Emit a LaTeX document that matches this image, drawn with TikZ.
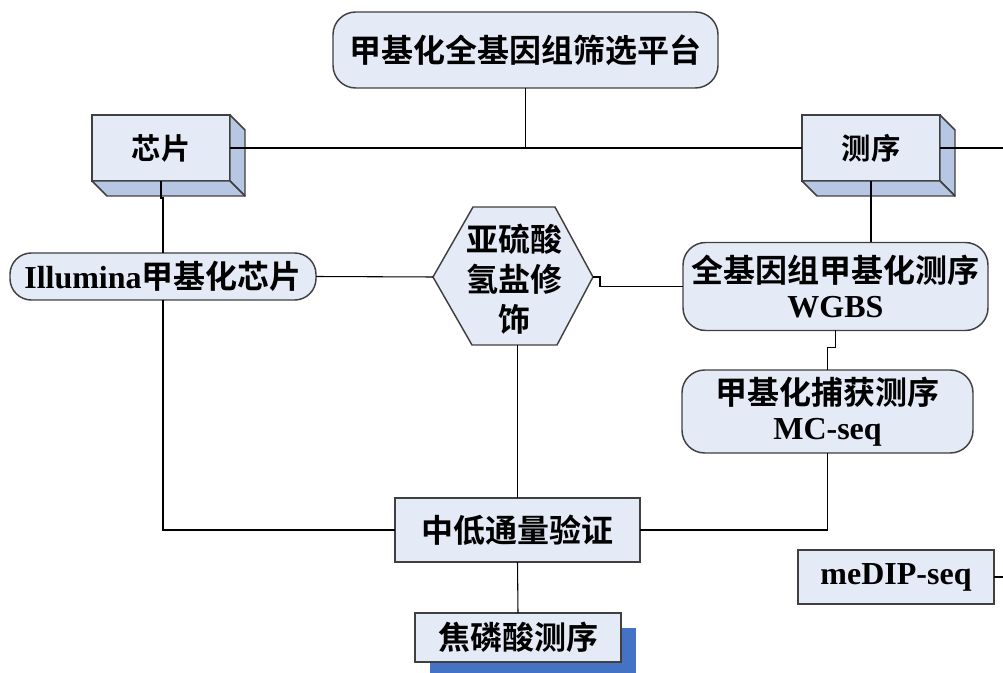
\documentclass[tikz,border=0pt]{standalone}
\usepackage{fontspec}
\setmainfont{Liberation Serif}
\newfontfamily\cjk{Noto Sans CJK SC}[BoldFont={Noto Sans CJK SC Bold}]
\definecolor{fillc}{HTML}{E4EAF6}
\definecolor{sidec}{HTML}{B7C6E3}
\definecolor{bordc}{HTML}{404040}
\definecolor{shadowc}{HTML}{4472C4}
\begin{document}
\begin{tikzpicture}[x=0.75pt,y=-0.75pt,
  box/.style={draw=bordc, fill=fillc, line width=1.1pt, inner sep=0pt, outer sep=0pt, align=center,
    font=\cjk\bfseries\fontsize{24}{28}\selectfont},
  rbox/.style={box, rounded corners=17pt},
  side/.style={draw=bordc, fill=sidec, line width=1.1pt, line join=round},
  conn/.style={draw=black, line width=0.8pt}]
\useasboundingbox (0,0) rectangle (1003,673);

% nodes
\node[rbox, minimum width=288.75pt, minimum height=57pt] (top) at (525.5,50) {甲基化全基因组筛选平台};
\node[box, minimum width=103.5pt, minimum height=49.5pt, font=\cjk\bfseries\fontsize{22}{26}\selectfont] (chip) at (161,148) {芯片};
\node[box, minimum width=103.5pt, minimum height=49.5pt, font=\cjk\bfseries\fontsize{22}{26}\selectfont] (seq) at (871,148) {测序};
\draw[side] (chip.north east) -- ++(15,15) -- ++(0,66) -- (chip.south east) -- cycle;
\draw[side] (chip.south west) -- ++(15,15) -- ++(138,0) -- (chip.south east) -- cycle;
\draw[side] (seq.north east) -- ++(15,15) -- ++(0,66) -- (seq.south east) -- cycle;
\draw[side] (seq.south west) -- ++(15,15) -- ++(138,0) -- (seq.south east) -- cycle;

\node[rbox, rounded corners=16pt, minimum width=229.5pt, minimum height=35.25pt] (illum) at (163,276.5) {{\rmfamily\bfseries Illumina}甲基化芯片};

% hexagon
\coordinate (hl) at (433,277);
\coordinate (hr) at (593,277);
\coordinate (hb) at (517.5,345);
\draw[box] (hl) -- (473,207) -- (555,207) -- (hr) -- (557,345) -- (472,345) -- cycle;
\node[font=\cjk\bfseries\fontsize{24}{30}\selectfont, align=center, inner sep=0pt] (hex) at (514,279) {亚硫酸\\氢盐修\\饰};

\node[rbox, minimum width=228.75pt, minimum height=66pt] (wgbs) at (835.5,286.5) {全基因组甲基化测序\\[-2pt]{\rmfamily\bfseries WGBS}};
\node[rbox, minimum width=218.25pt, minimum height=62.25pt] (mc) at (827.5,411.5) {甲基化捕获测序\\[-2pt]{\rmfamily\bfseries MC-seq}};
\node[box, minimum width=183.75pt, minimum height=48pt] (mid) at (517.5,530) {中低通量验证};
\fill[shadowc] (430,628) rectangle (636,673);
\node[box, minimum width=154.5pt, minimum height=36.75pt] (pyro) at (518,637.5) {焦磷酸测序};
\node[box, minimum width=147pt, minimum height=40.5pt, font=\rmfamily\bfseries\fontsize{24}{28}\selectfont] (medip) at (896,577) {meDIP-seq};

\coordinate (redgeA) at (1003,148);
\coordinate (redgeB) at (1003,577);

% connectors
\draw[conn] (top.south) -- (top.south |- chip.east);
\draw[conn] (chip.east) -- (seq.west);
\draw[conn] (seq.east) -- (redgeA);
\draw[conn] (chip.south) -- ++(0,17) -- ++(2,0) -- (illum.north);
\draw[conn] (illum.south) |- (mid.west);
\draw[conn] (illum.east) -- (hl);
\draw[conn] (hr) -- ++(7,0) |- (wgbs.west);
\draw[conn] (hb) -- (mid.north);
\draw[conn] (seq.south) -- (seq.south |- wgbs.north);
\draw[conn] (wgbs.south) -- ++(0,17) -| (mc.north);
\draw[conn] (mc.south) |- (mid.east);
\draw[conn] (mid.south) -- (pyro.north);
\draw[conn] (medip.east) -- (redgeB);
\end{tikzpicture}
\end{document}
